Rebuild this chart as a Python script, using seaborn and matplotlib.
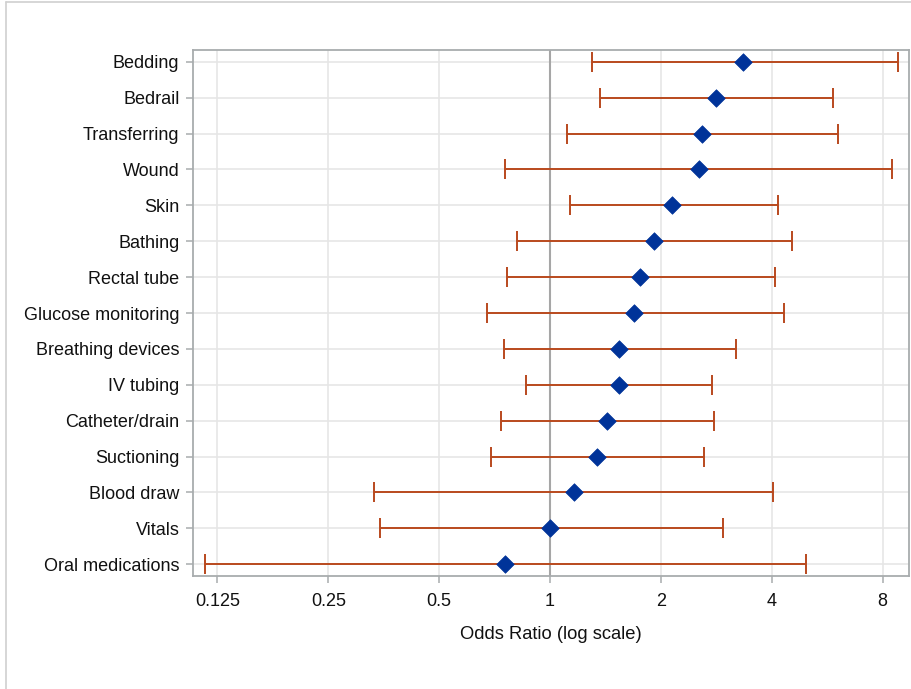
import numpy as np
import pandas as pd
import seaborn as sns
import matplotlib.pyplot as plt
from matplotlib.lines import Line2D
from matplotlib.ticker import FixedLocator, FixedFormatter, NullLocator

# Odds ratios with 95% confidence limits per care activity
activities = ["Bedding", "Bedrail", "Transferring", "Wound", "Skin", "Bathing",
              "Rectal tube", "Glucose monitoring", "Breathing devices", "IV tubing",
              "Catheter/drain", "Suctioning", "Blood draw", "Vitals", "Oral medications"]
odds_ratio = [3.35, 2.83, 2.58, 2.54, 2.15, 1.92, 1.76, 1.69, 1.54, 1.54,
              1.43, 1.34, 1.16, 1.00, 0.756]
lower_cl = [1.30, 1.37, 1.114, 0.756, 1.133, 0.813, 0.763, 0.673, 0.75, 0.859,
            0.736, 0.69, 0.333, 0.346, 0.1157]
upper_cl = [8.80, 5.88, 6.05, 8.50, 4.15, 4.54, 4.07, 4.32, 3.19, 2.76,
            2.79, 2.62, 4.03, 2.94, 4.95]
x_ticks = [0.125, 0.25, 0.5, 1, 2, 4, 8]
x_tick_labels = ["0.125", "0.25", "0.5", "1", "2", "4", "8"]

df = pd.DataFrame({"activity": activities, "or": odds_ratio,
                   "lo": lower_cl, "hi": upper_cl})
df["pos"] = np.arange(len(df))

sns.set_theme(style="white")
plt.rcParams["font.family"] = ["Liberation Sans", "DejaVu Sans"]

W, H = 912, 689
fig = plt.figure(figsize=(W / 100, H / 100), dpi=100)
ax = fig.add_axes([193.3 / W, 1 - 576 / H, (909.3 - 193.3) / W, (576 - 50) / H])

grid_c = "#E6E6E6"
spine_c = "#A8ACAE"
err_c = "#B9491E"
pt_c = "#003399"
text_c = "#111111"

ax.set_xscale("log", base=2)
ax.set_xlim(0.1075, 9.45)
n = len(df)
ax.set_ylim(n - 1 + 0.326, -0.326)

# grid
for t in x_ticks:
    ax.axvline(t, color=grid_c, lw=1.2, zorder=0)
for p in df["pos"]:
    ax.axhline(p, color=grid_c, lw=1.2, zorder=0)
# reference line at OR = 1
ax.axvline(1, color="#A6A6A6", lw=1.5, zorder=1)

# confidence intervals
ax.errorbar(df["or"], df["pos"],
            xerr=[df["or"] - df["lo"], df["hi"] - df["or"]],
            fmt="none", ecolor=err_c, elinewidth=1.4, capsize=7.5,
            capthick=1.4, zorder=2)

# point estimates
sns.scatterplot(data=df, x="or", y="pos", marker="D", s=80, color=pt_c,
                edgecolor=pt_c, linewidth=0.5, zorder=3, ax=ax, legend=False)

ax.xaxis.set_major_locator(FixedLocator(x_ticks))
ax.xaxis.set_major_formatter(FixedFormatter(x_tick_labels))
ax.xaxis.set_minor_locator(NullLocator())
ax.set_yticks(df["pos"])
ax.set_yticklabels(df["activity"])

ax.tick_params(axis="both", which="major", length=5, width=1.1, color=spine_c,
               labelsize=13, labelcolor=text_c, left=True, bottom=True)
ax.tick_params(axis="x", pad=7)
ax.tick_params(axis="y", pad=5)

for s in ax.spines.values():
    s.set_color(spine_c)
    s.set_linewidth(1.3)

ax.set_xlabel("Odds Ratio (log scale)", fontsize=13.2, color=text_c, labelpad=12)
ax.set_ylabel("")

# outer frame of the graph area
fig.add_artist(Line2D([6.5 / W, 6.5 / W], [0, 1 - 2 / H], transform=fig.transFigure,
                      color="#D0D0D0", lw=1.2))
fig.add_artist(Line2D([6.5 / W, 1], [1 - 2 / H, 1 - 2 / H], transform=fig.transFigure,
                      color="#D0D0D0", lw=1.2))

fig.savefig("out.png", dpi=100)
